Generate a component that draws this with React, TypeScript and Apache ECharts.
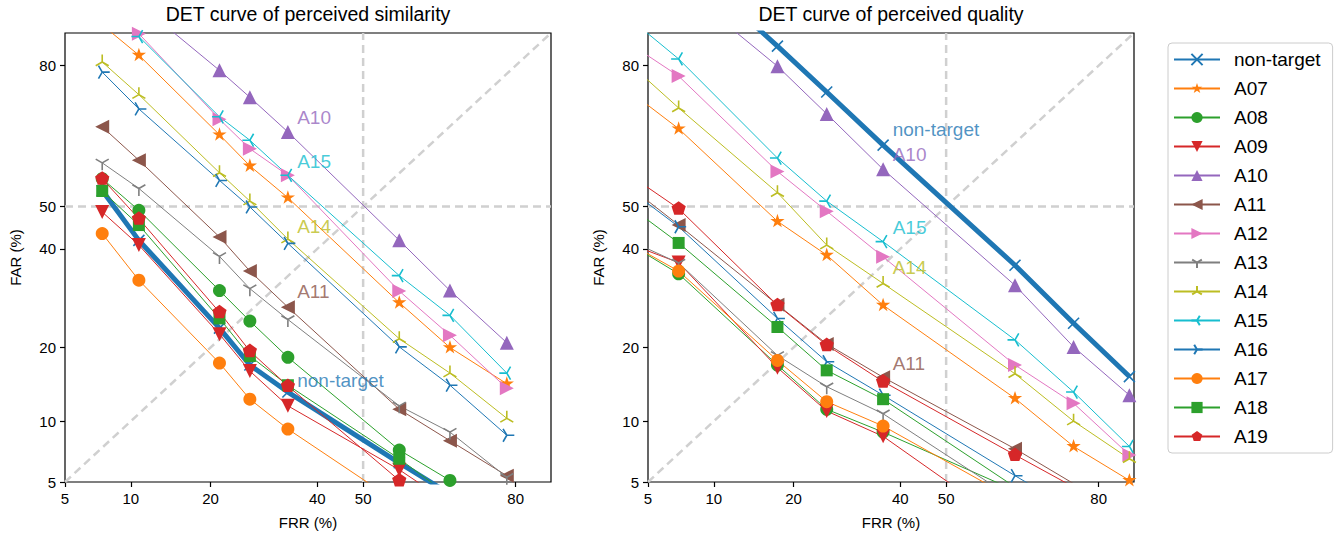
import React, { useEffect, useRef } from "react";
import * as echarts from "echarts";

// ---------- data (percent values) ----------
const SERIES_NAMES = ["non-target", "A07", "A08", "A09", "A10", "A11", "A12", "A13", "A14", "A15", "A16", "A17", "A18", "A19"];
const TICK_PCT = [5, 10, 20, 40, 50, 80];
const TICK_LABELS = ["5", "10", "20", "40", "50", "80"];
const AXIS_MIN_PCT = 5;
const AXIS_MAX_PCT = 85;

// perceived similarity (left)
const SIM_FRR = [7.5, 10.8, 21.4, 26.6, 33.9, 57.9, 68.4, 78.6];
const SIM_NONTARGET = [53.8, 42.0, 23.4, 17.2, 13.4, 6.3, 4.3, 3.0];
const SIM_A07 = [86.1, 81.7, 66.6, 59.6, 52.1, 28.3, 20.0, 14.5];
const SIM_A08 = [56.6, 49.1, 30.8, 24.7, 18.4, 7.3, 5.1, 3.5];
const SIM_A09 = [48.7, 40.9, 22.3, 16.3, 11.7, 5.8, 3.8, 2.5];
const SIM_A10 = [92.5, 88.7, 79.2, 74.3, 67.2, 42.0, 30.8, 20.8];
const SIM_A11 = [68.3, 60.9, 42.8, 35.0, 27.4, 11.3, 8.1, 5.4];
const SIM_A12 = [89.6, 84.9, 69.9, 63.5, 57.4, 30.7, 22.1, 13.9];
const SIM_A13 = [60.3, 54.3, 38.3, 31.2, 25.0, 11.7, 8.9, 5.3];
const SIM_A14 = [80.6, 74.8, 58.0, 51.3, 42.3, 21.5, 16.0, 10.3];
const SIM_A15 = [89.2, 84.5, 70.4, 65.4, 57.4, 34.0, 25.8, 16.0];
const SIM_A16 = [78.9, 72.0, 56.2, 49.9, 41.3, 20.1, 14.3, 8.6];
const SIM_A17 = [43.6, 33.0, 17.5, 12.5, 9.2, 3.8, 2.8, 2.0];
const SIM_A18 = [53.7, 45.6, 25.2, 18.6, 14.3, 6.6, 4.2, 3.0];
const SIM_A19 = [56.6, 47.1, 26.4, 19.4, 14.2, 5.1, 3.5, 2.5];

// perceived quality (right)
const QUA_FRR = [3.6, 7.0, 17.6, 25.5, 36.4, 64.8, 75.9, 84.4];
const QUA_NONTARGET = [97.0, 93.2, 83.1, 75.3, 64.3, 36.3, 24.3, 15.5];
const QUA_A07 = [76.8, 67.9, 46.5, 38.6, 27.8, 12.6, 7.6, 5.1];
const QUA_A08 = [42.5, 34.4, 17.2, 11.3, 8.9, 4.5, 3.0, 2.0];
const QUA_A09 = [42.0, 36.9, 16.8, 11.1, 8.5, 2.7, 2.0, 1.5];
const QUA_A10 = [95.0, 90.7, 79.9, 71.0, 58.8, 31.9, 20.1, 13.0];
const QUA_A11 = [56.5, 45.6, 27.9, 20.6, 15.4, 7.4, 4.9, 3.5];
const QUA_A12 = [84.4, 78.2, 58.3, 48.9, 38.2, 17.2, 12.0, 6.9];
const QUA_A13 = [43.0, 36.8, 18.7, 14.1, 10.8, 4.0, 3.0, 2.0];
const QUA_A14 = [81.7, 72.2, 53.3, 40.9, 32.3, 15.9, 10.0, 6.6];
const QUA_A15 = [87.9, 81.1, 61.4, 51.3, 41.7, 21.3, 13.4, 7.6];
const QUA_A16 = [55.7, 45.2, 25.2, 17.7, 13.0, 5.4, 3.5, 2.5];
const QUA_A17 = [42.5, 35.0, 17.9, 12.2, 9.5, 4.0, 3.0, 2.0];
const QUA_A18 = [51.7, 41.4, 23.6, 16.4, 12.5, 4.7, 3.5, 2.5];
const QUA_A19 = [59.0, 49.5, 27.8, 20.4, 14.8, 6.9, 4.7, 3.5];

// text annotations (FRR %, FAR %)
const SIM_NOTES = [
  { text: "A10", frr: 35.8, far: 70.3, color: "#9467bd" },
  { text: "A15", frr: 35.8, far: 60.5, color: "#17becf" },
  { text: "A14", frr: 35.8, far: 45.3, color: "#bcbd22" },
  { text: "A11", frr: 35.8, far: 30.5, color: "#8c564b" },
  { text: "non-target", frr: 35.8, far: 15.0, color: "#1f77b4" },
];
const QUA_NOTES = [
  { text: "non-target", frr: 38.4, far: 67.7, color: "#1f77b4" },
  { text: "A10", frr: 38.4, far: 62.3, color: "#9467bd" },
  { text: "A15", frr: 38.4, far: 45.1, color: "#17becf" },
  { text: "A14", frr: 38.4, far: 35.7, color: "#bcbd22" },
  { text: "A11", frr: 38.4, far: 17.4, color: "#8c564b" },
];

const SIM_SETS = [SIM_NONTARGET, SIM_A07, SIM_A08, SIM_A09, SIM_A10, SIM_A11, SIM_A12, SIM_A13, SIM_A14, SIM_A15, SIM_A16, SIM_A17, SIM_A18, SIM_A19];
const QUA_SETS = [QUA_NONTARGET, QUA_A07, QUA_A08, QUA_A09, QUA_A10, QUA_A11, QUA_A12, QUA_A13, QUA_A14, QUA_A15, QUA_A16, QUA_A17, QUA_A18, QUA_A19];

// ---------- scale (normal deviate) ----------
function probit(p: number): number {
  const a = [-3.969683028665376e1, 2.209460984245205e2, -2.759285104469687e2, 1.38357751867269e2, -3.066479806614716e1, 2.506628277459239];
  const b = [-5.447609879822406e1, 1.615858368580409e2, -1.556989798598866e2, 6.680131188771972e1, -1.328068155288572e1];
  const c = [-7.784894002430293e-3, -3.223964580411365e-1, -2.400758277161838, -2.549671743069049, 4.374664141464968, 2.938163982698783];
  const d = [7.784695709041462e-3, 3.224671290700398e-1, 2.445134137142996, 3.754408661907416];
  const pl = 0.02425;
  if (p < pl) {
    const q = Math.sqrt(-2 * Math.log(p));
    return (((((c[0] * q + c[1]) * q + c[2]) * q + c[3]) * q + c[4]) * q + c[5]) / ((((d[0] * q + d[1]) * q + d[2]) * q + d[3]) * q + 1);
  }
  if (p <= 1 - pl) {
    const q = p - 0.5;
    const r = q * q;
    return ((((((a[0] * r + a[1]) * r + a[2]) * r + a[3]) * r + a[4]) * r + a[5]) * q) / (((((b[0] * r + b[1]) * r + b[2]) * r + b[3]) * r + b[4]) * r + 1);
  }
  const q = Math.sqrt(-2 * Math.log(1 - p));
  return -(((((c[0] * q + c[1]) * q + c[2]) * q + c[3]) * q + c[4]) * q + c[5]) / ((((d[0] * q + d[1]) * q + d[2]) * q + d[3]) * q + 1);
}
const z = (pct: number) => probit(pct / 100);

// ---------- marker shapes ----------
const BOUNDS = "M-1 -1M1 1";
function polyPath(n: number, inner: number | null): string {
  let s = "";
  const count = inner === null ? n : n * 2;
  for (let i = 0; i < count; i++) {
    const r = inner === null ? 1 : i % 2 === 0 ? 1 : inner;
    const ang = -Math.PI / 2 + (i * 2 * Math.PI) / count;
    s += (i === 0 ? "M" : "L") + (r * Math.cos(ang)).toFixed(4) + " " + (r * Math.sin(ang)).toFixed(4);
  }
  return "path://" + s + "Z" + BOUNDS;
}
const STAR = polyPath(5, 0.381966);
const PENTAGON = polyPath(5, null);
const TRI_DOWN = "path://M0 0L0 1M0 0L-0.866 -0.5M0 0L0.866 -0.5" + BOUNDS;
const TRI_UP = "path://M0 0L0 -1M0 0L-0.866 0.5M0 0L0.866 0.5" + BOUNDS;
const TRI_LEFT = "path://M0 0L-1 0M0 0L0.5 -0.866M0 0L0.5 0.866" + BOUNDS;
const TRI_RIGHT = "path://M0 0L1 0M0 0L-0.5 -0.866M0 0L-0.5 0.866" + BOUNDS;
const XMARK = "path://M-1 -1L1 1M-1 1L1 -1";

type Sty = { color: string; symbol: string; size: number; rotate?: number; stroke?: boolean; width?: number };
const STYLES: Sty[] = [
  { color: "#1f77b4", symbol: XMARK, size: 11, stroke: true, width: 5 },
  { color: "#ff7f0e", symbol: STAR, size: 15 },
  { color: "#2ca02c", symbol: "circle", size: 13 },
  { color: "#d62728", symbol: "triangle", size: 14, rotate: 180 },
  { color: "#9467bd", symbol: "triangle", size: 14 },
  { color: "#8c564b", symbol: "triangle", size: 14, rotate: 90 },
  { color: "#e377c2", symbol: "triangle", size: 14, rotate: -90 },
  { color: "#7f7f7f", symbol: TRI_DOWN, size: 15, stroke: true },
  { color: "#bcbd22", symbol: TRI_UP, size: 15, stroke: true },
  { color: "#17becf", symbol: TRI_LEFT, size: 15, stroke: true },
  { color: "#1f77b4", symbol: TRI_RIGHT, size: 15, stroke: true },
  { color: "#ff7f0e", symbol: "circle", size: 13 },
  { color: "#2ca02c", symbol: "rect", size: 12 },
  { color: "#d62728", symbol: PENTAGON, size: 15 },
];

const FONT = "Liberation Sans, Arial, Helvetica, sans-serif";

export default function App() {
  const ref = useRef<HTMLDivElement>(null);
  useEffect(() => {
    if (!ref.current) return;
    const chart = echarts.init(ref.current, undefined, { renderer: "svg" });
    const zMin = z(AXIS_MIN_PCT);
    const zMax = z(AXIS_MAX_PCT);
    const tickZ = TICK_PCT.map(z);
    const fmt = (v: number) => {
      for (let i = 0; i < tickZ.length; i++) if (Math.abs(tickZ[i] - v) < 1e-6) return TICK_LABELS[i];
      return "";
    };
    const grids = [
      { left: 65, top: 33, width: 486, height: 449 },
      { left: 648, top: 33, width: 486, height: 449 },
    ];
    const axisCommon = (gi: number, name: string) => ({
      type: "value",
      gridIndex: gi,
      min: zMin,
      max: zMax,
      axisLine: { show: false, onZero: false },
      axisTick: { show: true, customValues: tickZ, length: 5, lineStyle: { color: "#000", width: 1.2 } },
      axisLabel: { show: true, customValues: tickZ, formatter: fmt, fontSize: 15, color: "#000", margin: 9, fontFamily: FONT },
      splitLine: { show: false },
      name,
      nameLocation: "middle",
      nameTextStyle: { fontSize: 15, color: "#000", fontFamily: FONT },
    });
    const xAxes = [0, 1].map((gi) => ({ ...axisCommon(gi, "FRR (%)"), position: "bottom", nameGap: 33 }));
    const yAxes = [0, 1].map((gi) => ({ ...axisCommon(gi, "FAR (%)"), position: "left", nameGap: 42 }));

    const series: any[] = [];
    const refLine = (gi: number, pts: number[][]) => ({
      type: "line",
      xAxisIndex: gi,
      yAxisIndex: gi,
      data: pts.map((p) => [z(p[0]), z(p[1])]),
      symbol: "none",
      silent: true,
      z: 1,
      lineStyle: { color: "#d0d0d0", width: 2.5, type: [8, 5] },
    });
    [0, 1].forEach((gi) => {
      series.push(refLine(gi, [[50, AXIS_MIN_PCT], [50, AXIS_MAX_PCT]]));
      series.push(refLine(gi, [[AXIS_MIN_PCT, 50], [AXIS_MAX_PCT, 50]]));
      series.push(refLine(gi, [[AXIS_MIN_PCT, AXIS_MIN_PCT], [AXIS_MAX_PCT, AXIS_MAX_PCT]]));
    });
    const panels = [
      { frr: SIM_FRR, sets: SIM_SETS, notes: SIM_NOTES },
      { frr: QUA_FRR, sets: QUA_SETS, notes: QUA_NOTES },
    ];
    panels.forEach((panel, gi) => {
      SERIES_NAMES.forEach((name, si) => {
        const st = STYLES[si];
        const ys = panel.sets[si];
        series.push({
          type: "line",
          name,
          xAxisIndex: gi,
          yAxisIndex: gi,
          data: panel.frr.map((x, i) => [z(x), z(ys[i])]),
          symbol: st.symbol,
          symbolSize: st.size,
          symbolRotate: st.rotate || 0,
          showSymbol: true,
          clip: true,
          z: 2,
          lineStyle: { color: st.color, width: st.width || 1 },
          itemStyle: st.stroke
            ? { color: st.color, borderColor: st.color, borderWidth: 1.6 }
            : { color: st.color, borderWidth: 0 },
          emphasis: { disabled: true },
        });
      });
      series.push({
        type: "scatter",
        xAxisIndex: gi,
        yAxisIndex: gi,
        symbolSize: 0,
        silent: true,
        z: 5,
        data: panel.notes.map((n) => ({ name: n.text, value: [z(n.frr), z(n.far)], label: { color: n.color } })),
        label: { show: true, position: "right", distance: 0, formatter: "{b}", fontSize: 19, fontFamily: FONT },
      });
    });

    chart.setOption({
      animation: false,
      textStyle: { fontFamily: FONT },
      grid: grids.map((g) => ({ ...g, show: true, borderColor: "#000", borderWidth: 1.2, backgroundColor: "transparent" })),
      xAxis: xAxes,
      yAxis: yAxes,
      legend: {
        data: SERIES_NAMES,
        orient: "vertical",
        left: 1168,
        top: 43,
        itemWidth: 46,
        itemHeight: 14,
        itemGap: 10,
        padding: [7, 12, 7, 5],
        borderColor: "#cccccc",
        borderWidth: 1,
        borderRadius: 4,
        selectedMode: false,
        textStyle: { fontSize: 19, color: "#000", fontFamily: FONT, padding: [0, 0, 0, 9] },
      },
      graphic: [
        { type: "text", x: 308, y: 14, style: { text: "DET curve of perceived similarity", fill: "#000", fontSize: 19.5, fontFamily: FONT, align: "center", verticalAlign: "middle", textAlign: "center", textVerticalAlign: "middle" } },
        { type: "text", x: 891, y: 14, style: { text: "DET curve of perceived quality", fill: "#000", fontSize: 19.5, fontFamily: FONT, align: "center", verticalAlign: "middle", textAlign: "center", textVerticalAlign: "middle" } },
      ],
      series,
    });
    return () => chart.dispose();
  }, []);
  return <div ref={ref} style={{ position: "fixed", left: 0, top: 0, width: 1343, height: 538, background: "#fff" }} />;
}
